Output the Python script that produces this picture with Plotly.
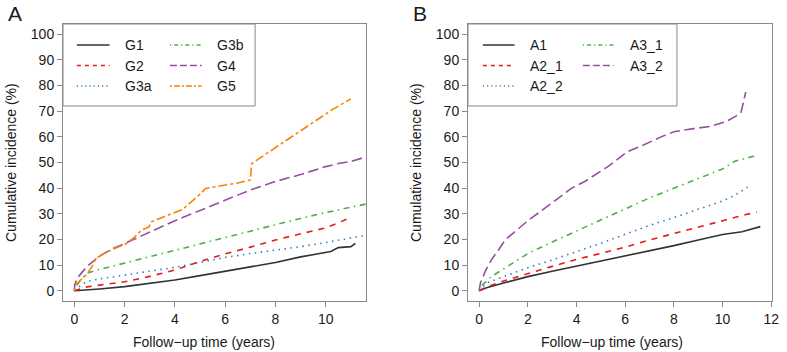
import plotly.graph_objects as go

# ---------------- data ----------------
# Panel A
tG1 = [0, 0.5, 1, 2, 3, 4, 5, 6, 7, 8, 9, 10, 10.2, 10.5, 11.0, 11.18]
vG1 = [0, 0.3, 0.7, 1.6, 2.8, 4.2, 5.9, 7.6, 9.3, 11.0, 13.2, 15.0, 15.3, 16.8, 17.2, 18.5]
tG2 = [0, 0.5, 1, 2, 3, 4, 5, 6, 7, 8, 9, 10, 10.5, 10.92]
vG2 = [0, 1.5, 2.2, 3.5, 5.6, 8.1, 11.4, 14.4, 17.0, 19.8, 22.2, 24.5, 26.5, 28.3]
tG3a = [0, 0.1, 0.5, 1, 2, 3, 4, 5, 6, 7, 8, 9, 10, 11, 11.5]
vG3a = [0, 1.0, 3.6, 4.6, 6.1, 7.6, 9.1, 11.0, 13.0, 14.5, 15.8, 17.2, 18.8, 20.5, 21.5]
tG3b = [0, 0.05, 0.25, 0.5, 1, 2, 3, 4, 5, 6, 7, 8, 9, 10, 11, 11.6]
vG3b = [0, 1.5, 4.2, 6.8, 8.3, 10.8, 13.4, 15.9, 18.5, 21.0, 23.5, 25.8, 28.2, 30.5, 32.5, 33.8]
tG4 = [0, 0.02, 0.12, 0.5, 1, 1.5, 2, 3, 4, 5, 6, 7, 8, 9, 10, 10.5, 11, 11.6]
vG4 = [0, 2.5, 5.0, 9.4, 13.5, 16.3, 18.4, 23.0, 27.3, 31.3, 35.2, 39.3, 42.6, 45.3, 48.4, 49.6, 50.4, 52.2]
tG5 = [0, 0.01, 0.25, 0.51, 0.71, 0.84, 1.3, 1.62, 2.08, 2.41, 2.67, 2.97, 3.06, 3.39, 3.91,
       4.31, 4.5, 4.83, 5.03, 5.22, 5.75, 6.5, 7.0, 7.05, 7.3, 10.26, 11.0]
vG5 = [0, 1.8, 4.2, 6.5, 9.6, 12.5, 15.2, 16.5, 18.4, 21.0, 23.6, 24.9, 26.9, 28.2, 30.1,
       31.7, 33.4, 36.0, 37.9, 39.9, 40.8, 42.0, 43.2, 49.5, 51.2, 70.6, 74.8]

# Panel B
tA1 = [0, 0.3, 1, 2, 3, 4, 5, 6, 7, 8, 9, 10, 10.8, 11.55]
vA1 = [0, 1.2, 3.0, 5.5, 7.6, 9.6, 11.6, 13.5, 15.5, 17.6, 19.8, 21.9, 23.0, 25.0]
tA2_1 = [0, 0.3, 1, 2, 3, 4, 5, 6, 7, 8, 9, 10, 11, 11.4]
vA2_1 = [0, 1.5, 3.8, 6.8, 9.5, 12.2, 14.6, 17.0, 19.8, 22.2, 24.8, 27.3, 29.8, 30.6]
tA2_2 = [0, 0.3, 1, 2, 3, 4, 5, 6, 7, 8, 9, 10, 10.5, 11.03]
vA2_2 = [0, 3.0, 5.5, 9.0, 12.0, 15.2, 18.5, 22.0, 25.5, 28.5, 31.8, 35.0, 37.2, 40.4]
tA3_1 = [0, 0.1, 0.5, 1, 2, 3, 4, 5, 6, 7, 8, 9, 10, 10.5, 11.3]
vA3_1 = [0, 2.0, 5.5, 8.5, 14.5, 19.0, 23.3, 27.8, 32.0, 36.2, 40.0, 43.7, 47.5, 50.5, 52.5]
tA3_2 = [0, 0.05, 0.27, 0.54, 0.8, 1.08, 1.4, 2, 2.7, 3.25, 3.8, 4.34, 4.88, 5.3, 6.1,
         6.77, 7.45, 8, 8.8, 9.5, 10.16, 10.56, 10.75, 10.95]
vA3_2 = [0, 3.0, 8.0, 12.6, 16.0, 20.0, 22.5, 27.3, 32.2, 36.0, 40.0, 42.6, 46.0, 48.5, 54.3,
         56.9, 59.9, 62.0, 63.2, 64.1, 66.0, 68.2, 69.2, 77.5]

labelsA = ["G1", "G2", "G3a", "G3b", "G4", "G5"]
labelsB = ["A1", "A2_1", "A2_2", "A3_1", "A3_2"]
yticks = [0, 10, 20, 30, 40, 50, 60, 70, 80, 90, 100]
xticksA = [0, 2, 4, 6, 8, 10]
xticksB = [0, 2, 4, 6, 8, 10, 12]

# ---------------- styles ----------------
colors = ["#333333", "#E41A1C", "#377EB8", "#4DAF4A", "#984EA3", "#FF7F00"]
dash_plot = ["solid", "6px,6px", "1.5px,4.5px", "1.5px,4.5px,6px,4.5px", "10.5px,4.5px", "3px,3px,9px,3px"]
dash_leg = ["solid", "4px,4px", "1.2px,3px", "1.2px,3px,4px,3px", "7px,3px", "2px,2px,6px,2px"]

FONT = "Liberation Sans, Arial, Helvetica, sans-serif"
W, H = 787, 352
ML, MR, MT, MB = 63, 8, 24, 51
PW, PH = W - ML - MR, H - MT - MB


def px(x):
    return (x - ML) / PW


def py(y):
    return (H - MB - y) / PH


fig = go.Figure()

seriesA = [(tG1, vG1), (tG2, vG2), (tG3a, vG3a), (tG3b, vG3b), (tG4, vG4), (tG5, vG5)]
seriesB = [(tA1, vA1), (tA2_1, vA2_1), (tA2_2, vA2_2), (tA3_1, vA3_1), (tA3_2, vA3_2)]

for i, (t, v) in enumerate(seriesA):
    fig.add_trace(go.Scatter(x=t, y=v, mode="lines", name=labelsA[i], xaxis="x", yaxis="y",
                             line=dict(color=colors[i], width=1.6, dash=dash_plot[i]),
                             showlegend=False))
for i, (t, v) in enumerate(seriesB):
    fig.add_trace(go.Scatter(x=t, y=v, mode="lines", name=labelsB[i], xaxis="x2", yaxis="y2",
                             line=dict(color=colors[i], width=1.6, dash=dash_plot[i]),
                             showlegend=False))

frame = "#8a8a8a"
tickfont = dict(family=FONT, size=14, color="#1a1a1a")
common = dict(showline=True, mirror=True, linecolor=frame, linewidth=1, ticks="outside",
              ticklen=5, tickcolor=frame, tickwidth=1, showgrid=False, zeroline=False,
              tickfont=tickfont, fixedrange=True)

dA = [0, px(369)]
dB = [px(472), 1]
fig.update_layout(
    width=W, height=H,
    margin=dict(l=ML, r=MR, t=MT, b=MB),
    paper_bgcolor="white", plot_bgcolor="white",
    showlegend=False,
    xaxis=dict(domain=dA, range=[-0.45, 11.6], tickvals=xticksA, anchor="y", **common),
    yaxis=dict(domain=[0, 1], range=[-4, 104], tickvals=yticks, anchor="x", **common),
    xaxis2=dict(domain=dB, range=[-0.46, 12.03], tickvals=xticksB, anchor="y2", **common),
    yaxis2=dict(domain=[0, 1], range=[-4, 104], tickvals=yticks, anchor="x2", **common),
)

shapes = []
annotations = []
txt = dict(family=FONT, size=14, color="#1a1a1a")

# legends drawn as boxes (paper coordinates)
legend_specs = [
    (labelsA, 63, 257, [(77, 110, 124), (171, 203, 217)]),
    (labelsB, 472, 683, [(487, 519, 533), (588, 619, 634)]),
]
rows = [45, 65.5, 86]
for labels, bx0, bx1, cols in legend_specs:
    shapes.append(dict(type="rect", xref="paper", yref="paper", x0=px(bx0), x1=px(bx1),
                       y0=py(106), y1=py(24), line=dict(color=frame, width=1),
                       fillcolor="white", layer="above"))
    for k, lab in enumerate(labels):
        c, r = divmod(k, 3)
        lx0, lx1, tx = cols[c]
        yy = py(rows[r])
        shapes.append(dict(type="line", xref="paper", yref="paper", x0=px(lx0), x1=px(lx1),
                           y0=yy, y1=yy, line=dict(color=colors[k], width=1.3, dash=dash_leg[k]),
                           layer="above"))
        annotations.append(dict(text=lab, xref="paper", yref="paper", x=px(tx), y=yy,
                                xanchor="left", yanchor="middle", showarrow=False, font=txt))

# axis titles
for xc in (205, 617):
    annotations.append(dict(text="Follow\u2212up time (years)", xref="paper", yref="paper",
                            x=px(xc), y=py(342), xanchor="center", yanchor="middle",
                            showarrow=False, font=txt))
for xc in (10, 419):
    annotations.append(dict(text="Cumulative incidence (%)", xref="paper", yref="paper",
                            x=px(xc), y=py(162.5), xanchor="center", yanchor="middle",
                            textangle=-90, showarrow=False, font=txt))
# panel letters
for lab, xc in (("A", 15), ("B", 424)):
    annotations.append(dict(text=lab, xref="paper", yref="paper", x=px(xc), y=py(13),
                            xanchor="center", yanchor="middle", showarrow=False,
                            font=dict(family=FONT, size=21, color="#1a1a1a")))

fig.update_layout(shapes=shapes, annotations=annotations)
# remove the default 8px page margin so the figure sits at the window's top-left corner
fig.write_html("out.html", config={"displayModeBar": False, "staticPlot": True},
               post_script="document.body.style.margin='0';")
